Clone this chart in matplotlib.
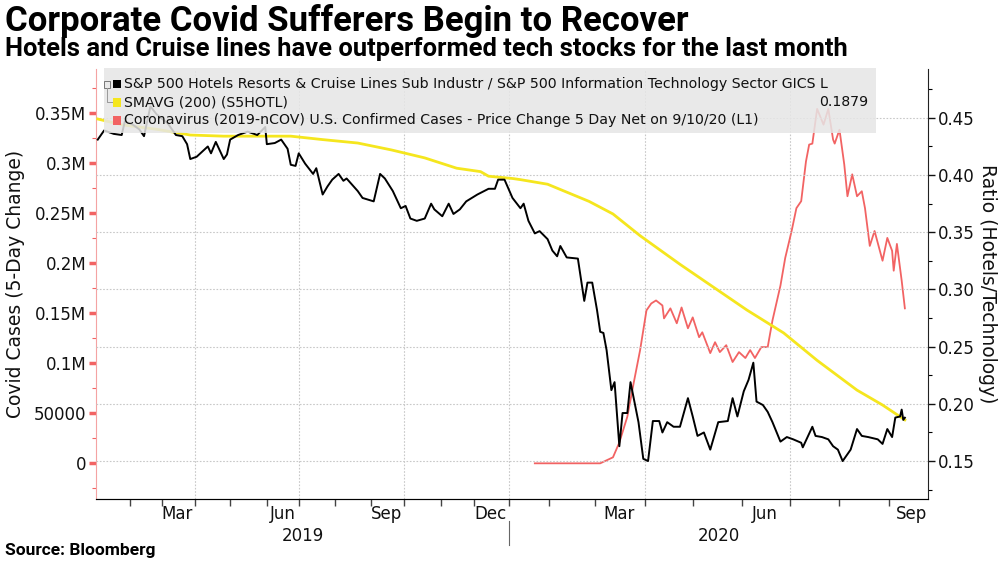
import numpy as np
import matplotlib
matplotlib.use("Agg")
import matplotlib.pyplot as plt
import matplotlib.transforms as mtransforms
from matplotlib.patches import Rectangle

# ---- data ----
ratio_dates = [
    "2019-01-04", "2019-01-10", "2019-01-18", "2019-01-25", "2019-01-29", "2019-02-05",
    "2019-02-11", "2019-02-14", "2019-02-20", "2019-02-26", "2019-03-07", "2019-03-14",
    "2019-03-20", "2019-03-25", "2019-03-27", "2019-04-02", "2019-04-11", "2019-04-15",
    "2019-04-18", "2019-04-25", "2019-04-29", "2019-05-01", "2019-05-08", "2019-05-16",
    "2019-05-24", "2019-05-31", "2019-06-03", "2019-06-10", "2019-06-14", "2019-06-20",
    "2019-06-24", "2019-06-27", "2019-07-01", "2019-07-05", "2019-07-12", "2019-07-16",
    "2019-07-22", "2019-07-25", "2019-07-30", "2019-08-05", "2019-08-08", "2019-08-12",
    "2019-08-21", "2019-08-26", "2019-09-04", "2019-09-10", "2019-09-13", "2019-09-20",
    "2019-09-27", "2019-10-02", "2019-10-07", "2019-10-11", "2019-10-18", "2019-10-24",
    "2019-10-28", "2019-11-04", "2019-11-08", "2019-11-13", "2019-11-19", "2019-11-25",
    "2019-12-04", "2019-12-13", "2019-12-19", "2019-12-23", "2019-12-27", "2020-01-03",
    "2020-01-10", "2020-01-14", "2020-01-17", "2020-01-23", "2020-01-26", "2020-01-31",
    "2020-02-03", "2020-02-06", "2020-02-08", "2020-02-12", "2020-02-19", "2020-02-23",
    "2020-02-25", "2020-02-28", "2020-03-02", "2020-03-04", "2020-03-06", "2020-03-08",
    "2020-03-11", "2020-03-13", "2020-03-16", "2020-03-18", "2020-03-21", "2020-03-23",
    "2020-03-26", "2020-03-28", "2020-03-31", "2020-04-03", "2020-04-06", "2020-04-10",
    "2020-04-12", "2020-04-15", "2020-04-19", "2020-04-23", "2020-04-28", "2020-05-01",
    "2020-05-04", "2020-05-08", "2020-05-12", "2020-05-17", "2020-05-23", "2020-05-26",
    "2020-05-29", "2020-06-02", "2020-06-05", "2020-06-08", "2020-06-10", "2020-06-14",
    "2020-06-17", "2020-06-20", "2020-06-25", "2020-06-29", "2020-07-03", "2020-07-08",
    "2020-07-09", "2020-07-15", "2020-07-17", "2020-07-21", "2020-07-25", "2020-07-28",
    "2020-07-31", "2020-08-03", "2020-08-08", "2020-08-12", "2020-08-15", "2020-08-19",
    "2020-08-25", "2020-08-28", "2020-08-31", "2020-09-03", "2020-09-05", "2020-09-08",
    "2020-09-09", "2020-09-10", "2020-09-11",
]
ratio_vals = [
    0.431, 0.439, 0.436, 0.435, 0.447, 0.444,
    0.440, 0.434, 0.460, 0.453, 0.445, 0.435,
    0.434, 0.427, 0.414, 0.416, 0.425, 0.419,
    0.429, 0.414, 0.418, 0.431, 0.435, 0.438,
    0.435, 0.442, 0.427, 0.428, 0.431, 0.423,
    0.409, 0.408, 0.419, 0.410, 0.401, 0.406,
    0.383, 0.390, 0.396, 0.401, 0.395, 0.397,
    0.386, 0.380, 0.377, 0.401, 0.397, 0.386,
    0.371, 0.373, 0.362, 0.360, 0.362, 0.375,
    0.370, 0.364, 0.375, 0.366, 0.370, 0.377,
    0.383, 0.388, 0.388, 0.396, 0.396, 0.380,
    0.371, 0.375, 0.360, 0.349, 0.351, 0.344,
    0.334, 0.329, 0.338, 0.328, 0.327, 0.290,
    0.306, 0.306, 0.282, 0.263, 0.262, 0.247,
    0.212, 0.219, 0.163, 0.192, 0.192, 0.219,
    0.198, 0.184, 0.152, 0.150, 0.185, 0.185,
    0.175, 0.184, 0.180, 0.180, 0.205, 0.189,
    0.172, 0.175, 0.160, 0.184, 0.185, 0.205,
    0.189, 0.211, 0.221, 0.236, 0.202, 0.199,
    0.193, 0.184, 0.167, 0.171, 0.169, 0.166,
    0.162, 0.180, 0.172, 0.171, 0.169, 0.163,
    0.160, 0.150, 0.160, 0.178, 0.172, 0.171,
    0.169, 0.165, 0.178, 0.171, 0.188, 0.189,
    0.195, 0.186, 0.1879,
]

smavg_dates = [
    "2019-01-04", "2019-01-25", "2019-02-26", "2019-03-27", "2019-04-25", "2019-06-24",
    "2019-07-22", "2019-08-21", "2019-09-19", "2019-10-18", "2019-11-15", "2019-12-06",
    "2019-12-13", "2020-01-03", "2020-01-10", "2020-01-31", "2020-02-26", "2020-03-12",
    "2020-03-29", "2020-04-23", "2020-05-14", "2020-06-04", "2020-06-27", "2020-07-18",
    "2020-08-12", "2020-08-28", "2020-09-11",
]
smavg_vals = [
    0.449, 0.444, 0.440, 0.435, 0.434, 0.434,
    0.431, 0.428, 0.422, 0.415, 0.406, 0.403,
    0.399, 0.397, 0.396, 0.392, 0.377, 0.366,
    0.347, 0.322, 0.302, 0.282, 0.262, 0.238,
    0.212, 0.199, 0.186,
]

covid_dates = [
    "2020-01-23", "2020-03-04", "2020-03-08", "2020-03-12", "2020-03-16", "2020-03-21",
    "2020-03-25", "2020-03-29", "2020-04-02", "2020-04-05", "2020-04-08", "2020-04-12",
    "2020-04-13", "2020-04-17", "2020-04-21", "2020-04-24", "2020-04-28", "2020-05-01",
    "2020-05-05", "2020-05-07", "2020-05-12", "2020-05-15", "2020-05-18", "2020-05-22",
    "2020-05-26", "2020-05-30", "2020-06-03", "2020-06-06", "2020-06-09", "2020-06-13",
    "2020-06-17", "2020-06-20", "2020-06-25", "2020-06-28", "2020-07-02", "2020-07-05",
    "2020-07-08", "2020-07-11", "2020-07-13", "2020-07-15", "2020-07-18", "2020-07-22",
    "2020-07-25", "2020-07-28", "2020-07-29", "2020-08-01", "2020-08-04", "2020-08-06",
    "2020-08-09", "2020-08-12", "2020-08-15", "2020-08-17", "2020-08-20", "2020-08-23",
    "2020-08-28", "2020-08-31", "2020-09-03", "2020-09-04", "2020-09-06", "2020-09-09",
    "2020-09-11",
]
covid_vals = [
    0, 0, 3000, 6000, 20800, 46600,
    80400, 113000, 152800, 159700, 162700, 157700,
    144800, 154800, 139900, 155700, 134900, 145800,
    126000, 130900, 110100, 121000, 111100, 118000,
    101200, 111100, 105200, 113100, 105200, 116100,
    116100, 142800, 177600, 205300, 232100, 254900,
    261900, 301600, 318400, 319400, 354100, 338300,
    354100, 323400, 319400, 333300, 298600, 266800,
    288700, 266800, 271800, 254900, 217200, 232100,
    202400, 225200, 212300, 192400, 219200, 182500,
    154800,
]

month_labels = ["Mar", "Jun", "Sep", "Dec", "Mar", "Jun", "Sep"]
month_label_dates = ["2019-03-15", "2019-06-15", "2019-09-15", "2019-12-15",
                     "2020-03-16", "2020-06-15", "2020-09-15"]
years = ["2019", "2020"]
left_ticks = [0, 50000, 100000, 150000, 200000, 250000, 300000, 350000]
left_labels = ["0", "50000", "0.1M", "0.15M", "0.2M", "0.25M", "0.3M", "0.35M"]
right_ticks = [0.15, 0.20, 0.25, 0.30, 0.35, 0.40, 0.45]

legend_items = [
    ("#000000", "S&P 500 Hotels Resorts & Cruise Lines Sub Industr / S&P 500 Information Technology Sector GICS L"),
    ("#F5E61E", "SMAVG (200) (S5HOTL)"),
    ("#F26363", "Coronavirus (2019-nCOV) U.S. Confirmed Cases - Price Change 5 Day Net on 9/10/20 (L1)"),
]

# Bloomberg axis: one step per trading day until the daily covid series begins, then one per day
AX_START = np.datetime64("2019-01-01")
DAILY_FROM = np.datetime64("2020-01-22")


def xpos(dates):
    d = np.array(dates, dtype="datetime64[D]")
    bd = np.busday_count(AX_START, np.minimum(d, DAILY_FROM)).astype(float)
    extra = (d - DAILY_FROM).astype(int)
    return bd + np.clip(extra, 0, None)


BLACK = "#000000"
YELLOW = "#F5E61E"
RED = "#F26363"
GRID = "#C8C8C8"
HEAD = ["Roboto", "DejaVu Sans"]

plt.rcParams["font.family"] = ["DejaVu Sans"]
fig = plt.figure(figsize=(10, 5.62), dpi=100)
ax = fig.add_axes([0.096, 0.112, 0.832, 0.765])
ax2 = ax.twinx()

x0, x1 = 1.9, 523.5
ax.set_xlim(x0, x1)
ax.set_ylim(-35700, 393800)
ax2.set_ylim(0.1168, 0.4926)

# gridlines
for q in ["2019-04-01", "2019-07-01", "2019-10-01", "2020-01-01", "2020-04-01", "2020-07-01"]:
    ax.axvline(xpos([q])[0], color=GRID, lw=0.8, ls=(0, (1.5, 1.5)), zorder=0)
for t in right_ticks:
    ax2.axhline(t, color=GRID, lw=0.8, ls=(0, (1.5, 1.5)), zorder=0)

ax.plot(xpos(covid_dates), covid_vals, color=RED, lw=1.3, zorder=3)
ax2.plot(xpos(smavg_dates), smavg_vals, color=YELLOW, lw=2.0, zorder=3)
ax2.plot(xpos(ratio_dates), ratio_vals, color=BLACK, lw=1.4, zorder=4)

# left axis
ax.set_yticks(left_ticks)
ax.set_yticklabels(left_labels)
ax.set_yticks(np.arange(-25000, 400000, 25000), minor=True)
ax.tick_params(axis="y", which="major", colors=RED, length=5, width=2.5, labelsize=12, labelcolor="#111111", pad=2)
ax.tick_params(axis="y", which="minor", colors=RED, length=3, width=0.8)
ax.spines["left"].set_color("#F4A3A3")
ax.set_ylabel("Covid Cases (5-Day Change)", fontsize=13.5, color="#111111", labelpad=6)

# right axis
ax2.set_yticks(right_ticks)
ax2.set_yticklabels(["%.2f" % t for t in right_ticks])
ax2.set_yticks(np.arange(0.125, 0.49, 0.025), minor=True)
ax2.tick_params(axis="y", which="major", length=5, width=1, labelsize=12, colors="#111111", pad=2)
ax2.tick_params(axis="y", which="minor", length=3, width=0.8)
ax2.set_ylabel("Ratio (Hotels/Technology)", fontsize=13.5, rotation=270, labelpad=16, color="#111111")
for a in (ax, ax2):
    a.spines["top"].set_visible(False)
ax2.spines["left"].set_visible(False)
ax.spines["right"].set_visible(False)
ax2.spines["right"].set_color("#222222")
ax.spines["bottom"].set_color("#444444")

# x axis: month ticks at month starts, labels in mid-month
month_starts = np.arange(np.datetime64("2019-02"), np.datetime64("2020-10"), np.timedelta64(1, "M"))
ax.set_xticks(xpos(month_starts.astype("datetime64[D]")))
ax.set_xticklabels([])
ax.set_xticks(xpos(month_label_dates), minor=True)
ax.set_xticklabels(month_labels, minor=True)
ax.tick_params(axis="x", which="major", length=5, width=1, colors="#444444")
ax.tick_params(axis="x", which="minor", length=0, labelsize=12, labelcolor="#111111", pad=4)

trans = mtransforms.blended_transform_factory(ax.transData, ax.transAxes)
for i, yr in enumerate(years):
    lo = max(x0, xpos([yr + "-01-01"])[0])
    hi = min(x1, xpos([str(int(yr) + 1) + "-01-01"])[0])
    ax.text((lo + hi) / 2, -0.085, yr, transform=trans, ha="center", va="center", fontsize=12, color="#111111")
sep = xpos(["2020-01-01"])[0]
ax.plot([sep, sep], [-0.05, -0.107], transform=trans, color="#666666", lw=0.8, clip_on=False)

# legend box
ax2.add_patch(Rectangle((0.0096, 0.851), 0.928, 0.152, transform=ax2.transAxes,
                        facecolor="#E6E6E6", alpha=0.85, edgecolor="none", zorder=6, clip_on=False))
for i, (c, label) in enumerate(legend_items):
    yy = 0.965 - i * 0.042
    ax2.add_patch(Rectangle((0.0205, yy - 0.01), 0.0096, 0.02, transform=ax2.transAxes,
                            facecolor=c, edgecolor="none", zorder=7))
    ax2.text(0.0335, yy, label, transform=ax2.transAxes, fontsize=10.2, va="center",
             ha="left", color="#111111", zorder=8)
ax2.add_patch(Rectangle((0.0095, 0.955), 0.0072, 0.017, transform=ax2.transAxes,
                        facecolor="none", edgecolor="#777777", lw=0.7, zorder=7))
ax2.plot([0.013, 0.013, 0.019], [0.955, 0.923, 0.923], transform=ax2.transAxes,
         color="#999999", lw=0.7, zorder=7)
ax2.text(0.928, 0.923, "0.1879", transform=ax2.transAxes, fontsize=10.2, ha="right",
         va="center", color="#111111", zorder=8)

# titles
fig.text(0.005, 0.945, "Corporate Covid Sufferers Begin to Recover", fontsize=25,
         fontweight="bold", family=HEAD, va="baseline")
fig.text(0.005, 0.900, "Hotels and Cruise lines have outperformed tech stocks for the last month",
         fontsize=18.4, fontweight="bold", family=HEAD, va="baseline")
fig.text(0.005, 0.012, "Source: Bloomberg", fontsize=12.5, fontweight="bold",
         family=HEAD, va="baseline")

fig.savefig("out.png", dpi=100)
